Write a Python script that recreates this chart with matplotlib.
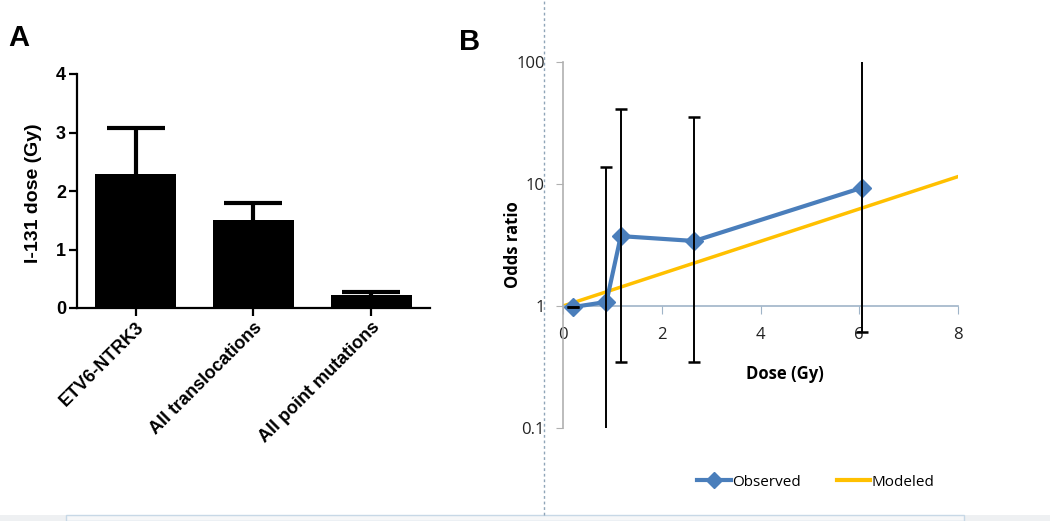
import matplotlib.pyplot as plt
from matplotlib.lines import Line2D
from matplotlib.patches import Rectangle

# Panel A data
categories = ["ETV6-NTRK3", "All translocations", "All point mutations"]
dose_mean = [2.29, 1.50, 0.22]
dose_err = [0.79, 0.29, 0.06]

# Panel B data
obs_dose = [0.20, 0.88, 1.17, 2.66, 6.05]
obs_or = [0.98, 1.08, 3.74, 3.41, 9.3]
obs_low = [0.98, 0.08, 0.35, 0.345, 0.61]
obs_high = [0.98, 13.7, 40.9, 35.6, 120.0]
mod_dose = [0, 8]
mod_or = [1.0, 11.5]

fig = plt.figure(figsize=(10.5, 5.21), dpi=100)
W, H = 1050, 521

# ---- panel A ----
axA = fig.add_axes([77 / W, 1 - 308 / H, (430 - 77) / W, (308 - 74) / H])
xs = range(len(categories))
axA.bar(xs, dose_mean, width=0.69, color="black", zorder=2)
eb = axA.errorbar(xs, dose_mean, yerr=[[0, 0, 0], dose_err], fmt="none",
                  ecolor="black", elinewidth=3, capsize=21, capthick=3, zorder=1)
eb[1][0].set_visible(False)  # no lower caps
axA.set_xlim(-0.5, 2.5)
axA.set_ylim(0, 4)
axA.set_yticks([0, 1, 2, 3, 4])
axA.set_xticks(list(xs))
axA.set_xticklabels(categories, rotation=45, ha="right", rotation_mode="anchor",
                    fontsize=13, fontweight="bold", family="Liberation Sans")
for lab in axA.get_yticklabels():
    lab.set_fontsize(13)
    lab.set_fontweight("bold")
    lab.set_family("Liberation Sans")
axA.spines["top"].set_visible(False)
axA.spines["right"].set_visible(False)
axA.spines["left"].set_linewidth(1.6)
axA.spines["bottom"].set_linewidth(1.6)
axA.tick_params(width=1.6, length=6, pad=2)
axA.set_ylabel("I-131 dose (Gy)", fontsize=14, fontweight="bold", family="Liberation Sans")
axA.yaxis.set_label_coords(-0.1, 0.49)

# ---- panel B ----
axB = fig.add_axes([563 / W, 1 - 428 / H, (958 - 563) / W, (428 - 62) / H])
yerr = [[o - l for o, l in zip(obs_or, obs_low)], [h - o for o, h in zip(obs_or, obs_high)]]
axB.plot(mod_dose, mod_or, color="#FFC000", lw=2.5, zorder=2, label="Modeled")
axB.plot(obs_dose, obs_or, color="#4A7EBB", lw=3, marker="D", markersize=9,
         zorder=3, label="Observed")
axB.errorbar(obs_dose, obs_or, yerr=yerr, fmt="none", ecolor="black",
             elinewidth=1.4, capsize=4, capthick=1.8, zorder=4)
axB.set_yscale("log")
axB.set_ylim(0.1, 100)
axB.set_xlim(0, 8)
axB.set_yticks([0.1, 1, 10, 100])
axB.set_yticklabels(["0.1", "1", "10", "100"])
axB.set_xticks([0, 2, 4, 6, 8])
axB.minorticks_off()
axB.spines["top"].set_visible(False)
axB.spines["right"].set_visible(False)
axB.spines["bottom"].set_position(("data", 1))
axB.spines["bottom"].set_color("#9fb4c8")
axB.spines["left"].set_color("#b0b0b0")
axB.spines["bottom"].set_linewidth(1.2)
axB.spines["left"].set_linewidth(1.2)
axB.tick_params(axis="x", colors="#9fb4c8", labelcolor="#222222", length=6, pad=9,
                labelsize=12)
axB.tick_params(axis="y", colors="#b0b0b0", labelcolor="#222222", length=5, pad=8,
                labelsize=12)
for lab in axB.get_xticklabels() + axB.get_yticklabels():
    lab.set_family("Open Sans")
axB.set_xlabel("Dose (Gy)", fontsize=12, fontweight="bold", family="Open Sans")
axB.xaxis.set_label_coords(0.562, 0.172)
axB.set_ylabel("Odds ratio", fontsize=12, fontweight="bold", family="Open Sans")
axB.yaxis.set_label_coords(-0.104, 0.5)

handles = [Line2D([], [], color="#4A7EBB", lw=3, marker="D", markersize=8),
           Line2D([], [], color="#FFC000", lw=3)]
fig.legend(handles, ["Observed", "Modeled"], loc="center", bbox_to_anchor=(816 / W, 1 - 482 / H),
           ncol=2, frameon=False, handlelength=2.2, handletextpad=0.1, columnspacing=2.3,
           prop={"family": "Open Sans", "size": 11})

# panel letters
fig.text(8 / W, 1 - 46 / H, "A", fontsize=21, fontweight="bold", family="Liberation Sans")
fig.text(459 / W, 1 - 50 / H, "B", fontsize=21, fontweight="bold", family="Liberation Sans")

# screenshot decorations
fig.add_artist(Line2D([544 / W, 544 / W], [1 - 515 / H, 1], color="#8fa5b8", lw=1,
                      ls=(0, (2, 2))))
fig.add_artist(Rectangle((0, 0), 1, 6 / H, color="#eef0f2", lw=0))
fig.add_artist(Rectangle((66 / W, 0), (964 - 66) / W, 6 / H, facecolor="#f6f7f8",
                         edgecolor="#c7d8e6", lw=1))

fig.savefig("out.png", dpi=100)
